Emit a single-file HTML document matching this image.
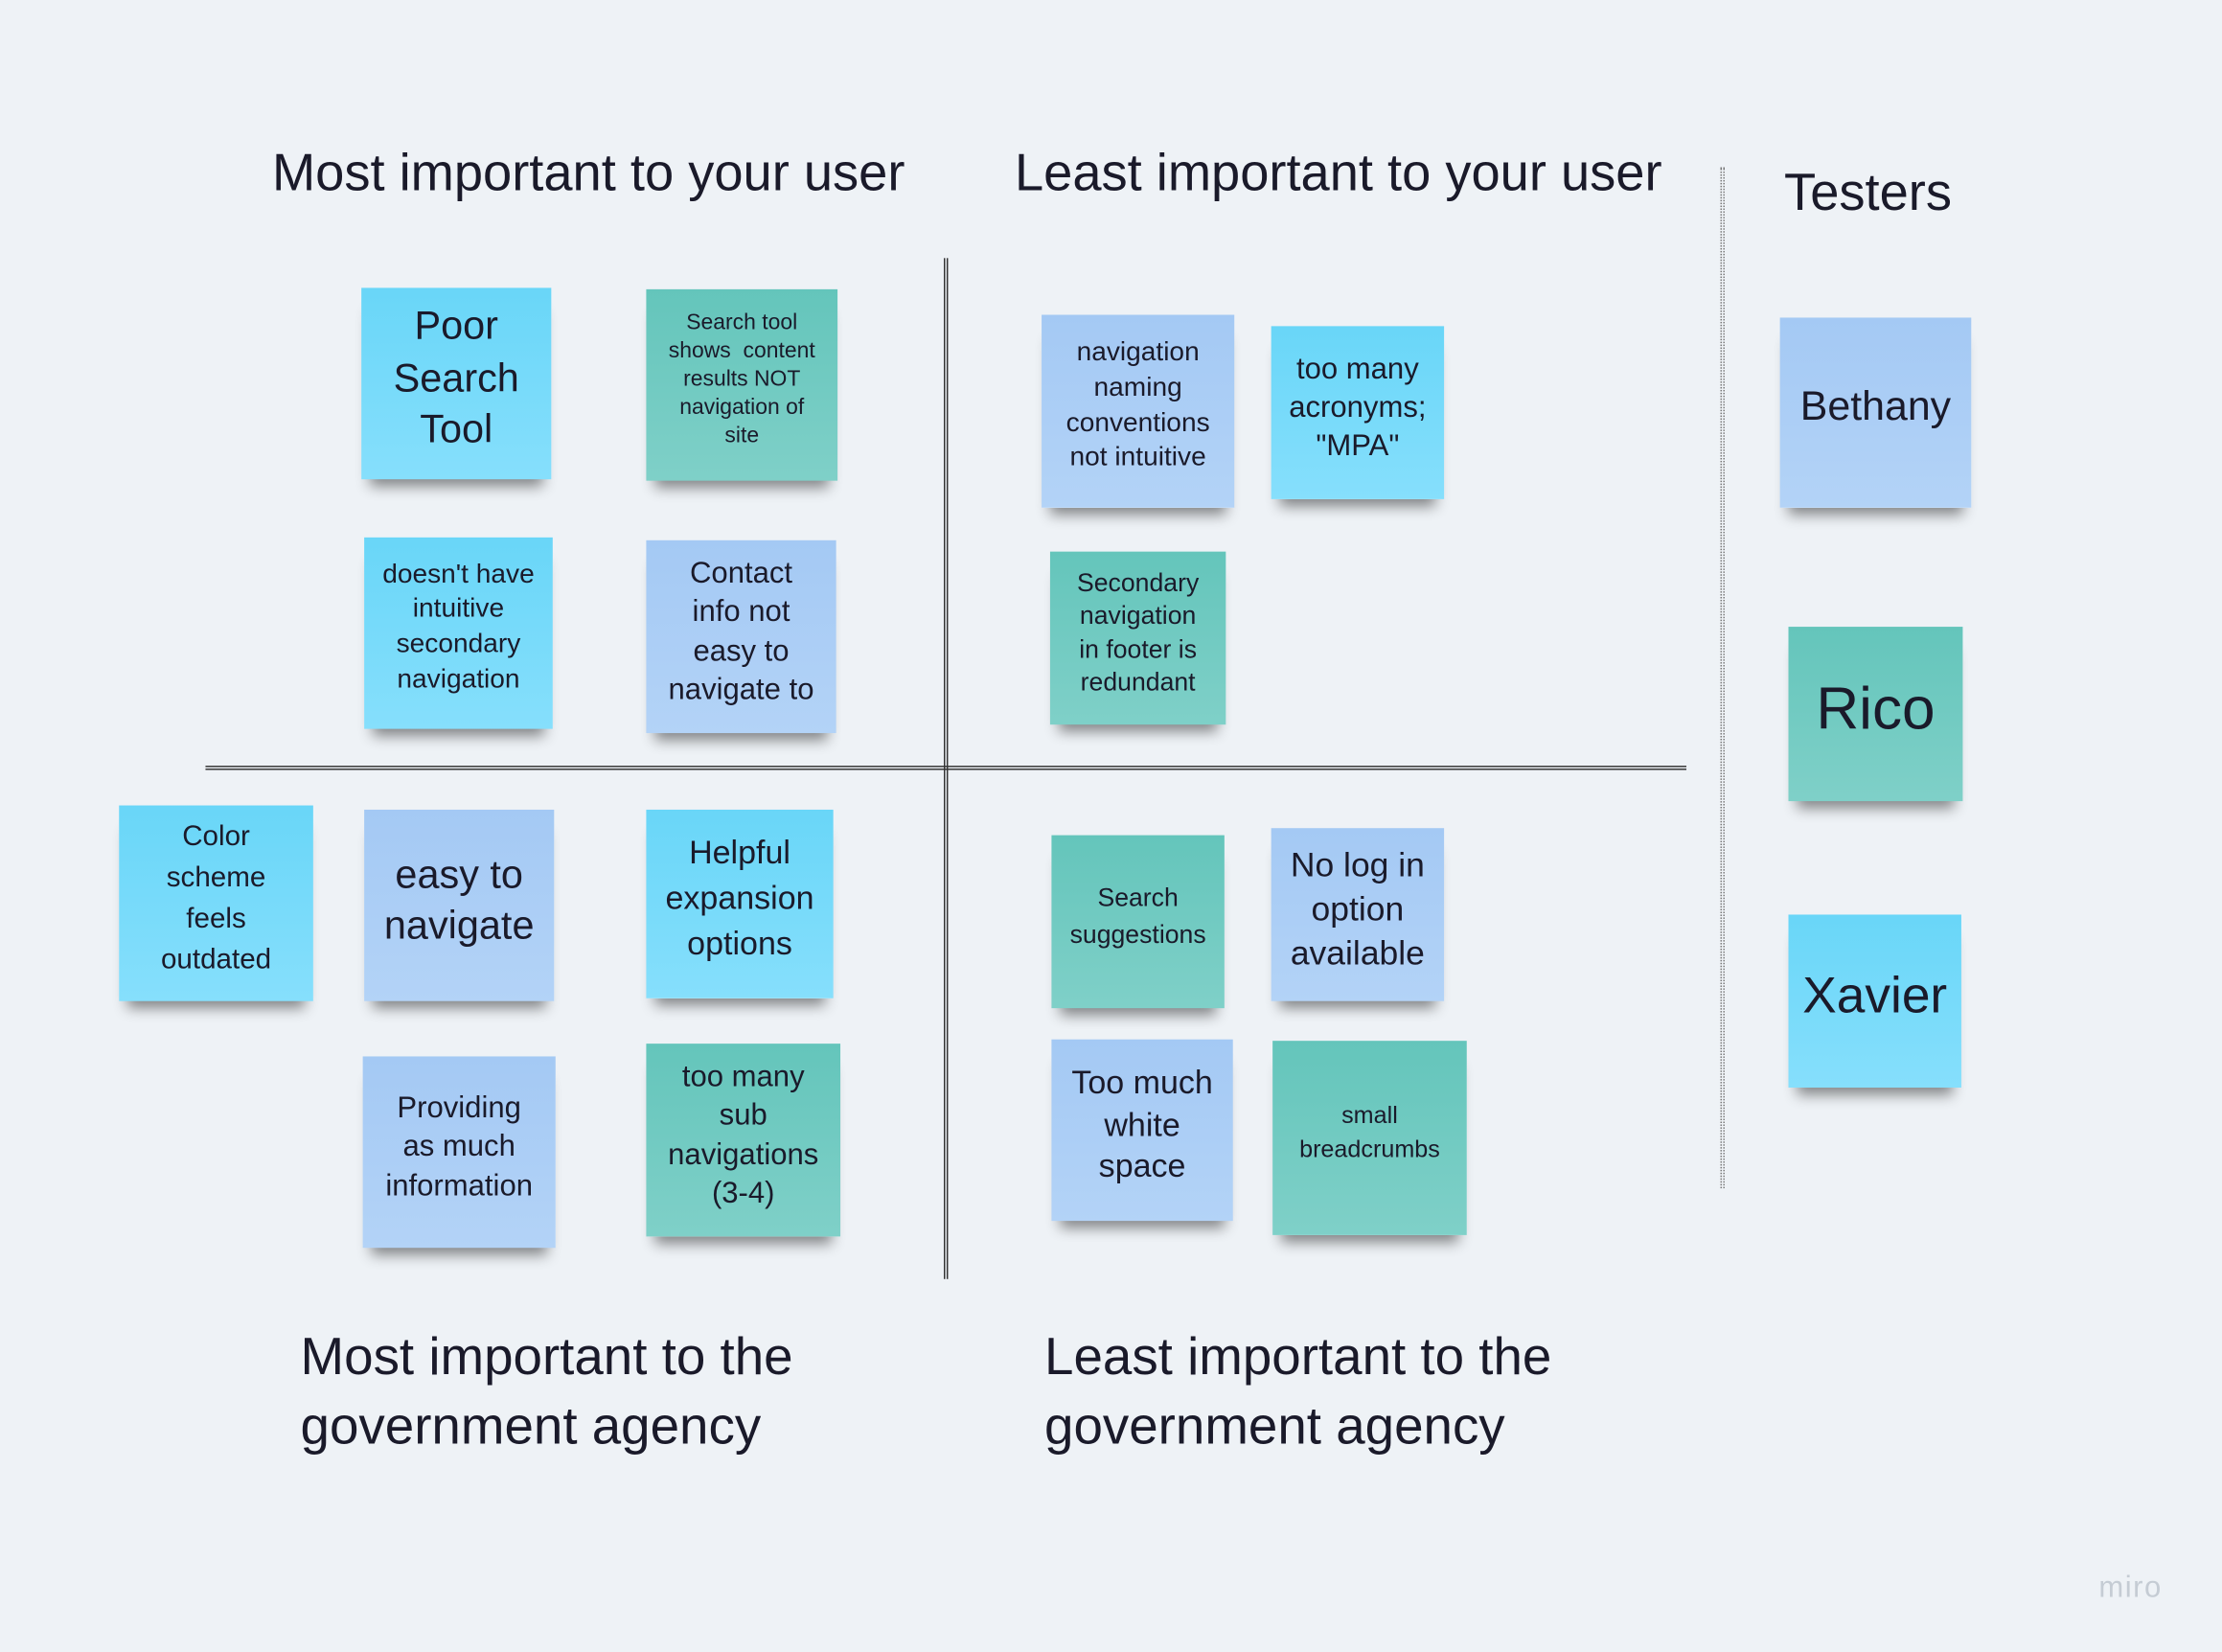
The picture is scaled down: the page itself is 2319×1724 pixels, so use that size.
<!DOCTYPE html>
<html><head><meta charset="utf-8"><style>
html,body{margin:0;padding:0;width:2319px;height:1724px;overflow:hidden;background:#eef2f6;}
#c{position:absolute;left:0;top:0;width:1568px;height:1165px;transform:scale(1.479,1.4798);transform-origin:0 0;font-family:"Liberation Sans",sans-serif;color:#1a1a2a;}
.s{position:absolute;display:flex;align-items:center;justify-content:center;text-align:center;line-height:1.3;box-sizing:border-box;padding-bottom:7px;box-shadow:0 11px 9px -6px rgba(0,0,0,0.45);}
.cy{background:linear-gradient(#69d6f8,#86dffc);}
.bl{background:linear-gradient(#a4c9f4,#b3d3f7);}
.te{background:linear-gradient(#64c5bb,#7fd0c8);}
.h{position:absolute;font-size:36.7px;white-space:nowrap;line-height:1.4;}
</style></head><body><div id="c">
<div class="h" style="left:192px;top:96px">Most important to your user</div>
<div class="h" style="left:716px;top:96px">Least important to your user</div>
<div class="h" style="left:1259px;top:110px">Testers</div>
<div class="h" style="left:212px;top:932px;line-height:49px;font-size:37px">Most important to the<br>government agency</div>
<div class="h" style="left:737px;top:932px;line-height:49px;font-size:37px">Least important to the<br>government agency</div>
<div style="position:absolute;left:666px;top:182px;width:1px;height:720px;border-left:1px solid #333;border-right:1px solid #333;"></div>
<div style="position:absolute;left:145px;top:540px;width:1045px;height:1px;border-top:1px solid #333;border-bottom:1px solid #333;"></div>
<div style="position:absolute;left:1214px;top:118px;width:1px;height:720px;border-left:1px dotted #777;border-right:1px dotted #777;"></div>

<div class="s cy" style="left:255px;top:203px;width:134px;height:135px;font-size:28px">Poor<br>Search<br>Tool</div>
<div class="s te" style="left:456px;top:204px;width:135px;height:135px;font-size:15.5px">Search tool<br>shows&nbsp; content<br>results NOT<br>navigation of<br>site</div>
<div class="s cy" style="left:257px;top:379px;width:133px;height:135px;font-size:19px">doesn't have<br>intuitive<br>secondary<br>navigation</div>
<div class="s bl" style="left:456px;top:381px;width:134px;height:136px;font-size:21px">Contact<br>info not<br>easy to<br>navigate to</div>
<div class="s bl" style="left:735px;top:222px;width:136px;height:136px;font-size:19px">navigation<br>naming<br>conventions<br>not intuitive</div>
<div class="s cy" style="left:897px;top:230px;width:122px;height:122px;font-size:21px">too many<br>acronyms;<br>"MPA"</div>
<div class="s te" style="left:741px;top:389px;width:124px;height:122px;font-size:18px">Secondary<br>navigation<br>in footer is<br>redundant</div>
<div class="s cy" style="left:84px;top:568px;width:137px;height:138px;font-size:20px;line-height:1.45">Color<br>scheme<br>feels<br>outdated</div>
<div class="s bl" style="left:257px;top:571px;width:134px;height:135px;font-size:28px">easy to<br>navigate</div>
<div class="s cy" style="left:456px;top:571px;width:132px;height:133px;font-size:23px;line-height:1.38">Helpful<br>expansion<br>options</div>
<div class="s bl" style="left:256px;top:745px;width:136px;height:135px;font-size:21px">Providing<br>as much<br>information</div>
<div class="s te" style="left:456px;top:736px;width:137px;height:136px;font-size:21px">too many<br>sub<br>navigations<br>(3-4)</div>
<div class="s te" style="left:742px;top:589px;width:122px;height:122px;font-size:18px;line-height:1.4">Search<br>suggestions</div>
<div class="s bl" style="left:897px;top:584px;width:122px;height:122px;font-size:24px">No log in<br>option<br>available</div>
<div class="s bl" style="left:742px;top:733px;width:128px;height:128px;font-size:23px">Too much<br>white<br>space</div>
<div class="s te" style="left:898px;top:734px;width:137px;height:137px;font-size:17px;line-height:1.4">small<br>breadcrumbs</div>
<div class="s bl" style="left:1256px;top:224px;width:135px;height:134px;font-size:29px">Bethany</div>
<div class="s te" style="left:1262px;top:442px;width:123px;height:123px;font-size:42px">Rico</div>
<div class="s cy" style="left:1262px;top:645px;width:122px;height:122px;font-size:36px">Xavier</div>
<div style="position:absolute;left:1481px;top:1108px;font-size:21px;color:#c5ccd4;letter-spacing:1px">miro</div>
</div></body></html>
